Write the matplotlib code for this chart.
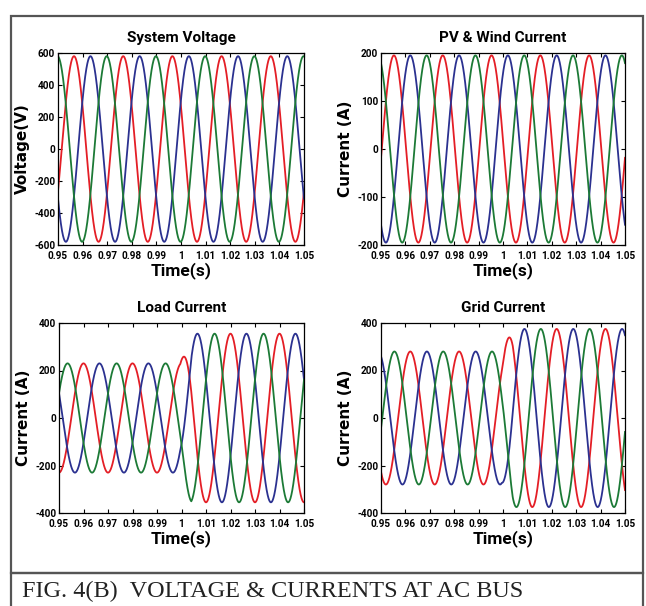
import numpy as np
import matplotlib
matplotlib.use('Agg')
import matplotlib.pyplot as plt
from matplotlib.patches import Rectangle

plt.rcParams['axes.unicode_minus'] = False

NARROW = ['Roboto', 'DejaVu Sans']

# three-phase traces: 50 Hz, time of first peak per phase (s)
freq = 50.0
colors = ['#e41e26', '#2b3190', '#1c7a36']  # red, blue, green

volt_peak = [0.9565, 0.9632, 0.9698]
volt_amp = [580, 580]

pv_peak = [0.9553, 0.9620, 0.9687]
pv_amp = [195, 195]

load_peak = [0.9600, 0.9665, 0.9535]
load_amp = [230, 355]      # before / after the load step

grid_peak = [0.9620, 0.9688, 0.9555]
grid_amp = [280, 375]

step_t = [0.9995, 1.004]   # amplitude change happens between these times

xticks = [0.95, 0.96, 0.97, 0.98, 0.99, 1.0, 1.01, 1.02, 1.03, 1.04, 1.05]

panels = [
    ('System Voltage', 'Voltage(V)', volt_peak, volt_amp, [-600, -400, -200, 0, 200, 400, 600]),
    ('PV & Wind Current', 'Current (A)', pv_peak, pv_amp, [-200, -100, 0, 100, 200]),
    ('Load Current', 'Current (A)', load_peak, load_amp, [-400, -200, 0, 200, 400]),
    ('Grid Current', 'Current (A)', grid_peak, grid_amp, [-400, -200, 0, 200, 400]),
]

W, H = 646, 606
fig = plt.figure(figsize=(W / 100, H / 100), dpi=100)

# axes boxes in pixels: left, top, right, bottom
boxes = [(58, 53, 304, 245), (381, 53, 625, 245),
         (59, 323, 304, 513), (381, 323, 625, 513)]

t = np.linspace(0.95, 1.05, 3001)
ramp = np.clip((t - step_t[0]) / (step_t[1] - step_t[0]), 0, 1)

for (title, ylabel, peaks, amps, yticks), (l, tp, r, b) in zip(panels, boxes):
    ax = fig.add_axes([l / W, 1 - b / H, (r - l) / W, (b - tp) / H])
    amp = amps[0] + (amps[1] - amps[0]) * ramp
    for pk, c in zip(peaks, colors):
        ax.plot(t, amp * np.cos(2 * np.pi * freq * (t - pk)), color=c, lw=1.3)
    ax.set_xlim(0.95, 1.05)
    ax.set_ylim(yticks[0], yticks[-1])
    ax.set_xticks(xticks)
    ax.set_xticklabels(['%g' % x for x in xticks], family=NARROW, fontsize=7.2, fontweight='bold')
    ax.set_yticks(yticks)
    ax.set_yticklabels(['%g' % y for y in yticks], family=NARROW, fontsize=7.2, fontweight='bold')
    ax.tick_params(direction='in', length=3, width=0.8, top=True, right=True)
    ax.tick_params(axis='x', pad=4)
    ax.tick_params(axis='y', pad=2)
    for s in ax.spines.values():
        s.set_linewidth(0.9)
    ax.set_title(title, family=NARROW, fontsize=11, fontweight='bold', pad=8)
    ax.set_xlabel('Time(s)', family=NARROW, fontsize=12.5, fontweight='bold', labelpad=1)
    ax.set_ylabel(ylabel, family='DejaVu Sans', fontsize=11, fontweight='bold')
    ax.yaxis.set_label_coords(-28 / (r - l), 0.5)

# outer frames
frame = '#555555'
fig.add_artist(Rectangle((11 / W, 1 - 573 / H), 632 / W, 557 / H, transform=fig.transFigure,
                         fill=False, ec=frame, lw=1.6))
fig.add_artist(Rectangle((11 / W, -0.05), 632 / W, 0.05 + 1 - 573 / H, transform=fig.transFigure,
                         fill=False, ec=frame, lw=1.6))
fig.text(22 / W, 1 - 591 / H, 'FIG. 4(B)  VOLTAGE & CURRENTS AT AC BUS',
         family='Liberation Serif', fontsize=17.5, va='center', ha='left', color='#222222')

fig.savefig('out.png', dpi=100)
